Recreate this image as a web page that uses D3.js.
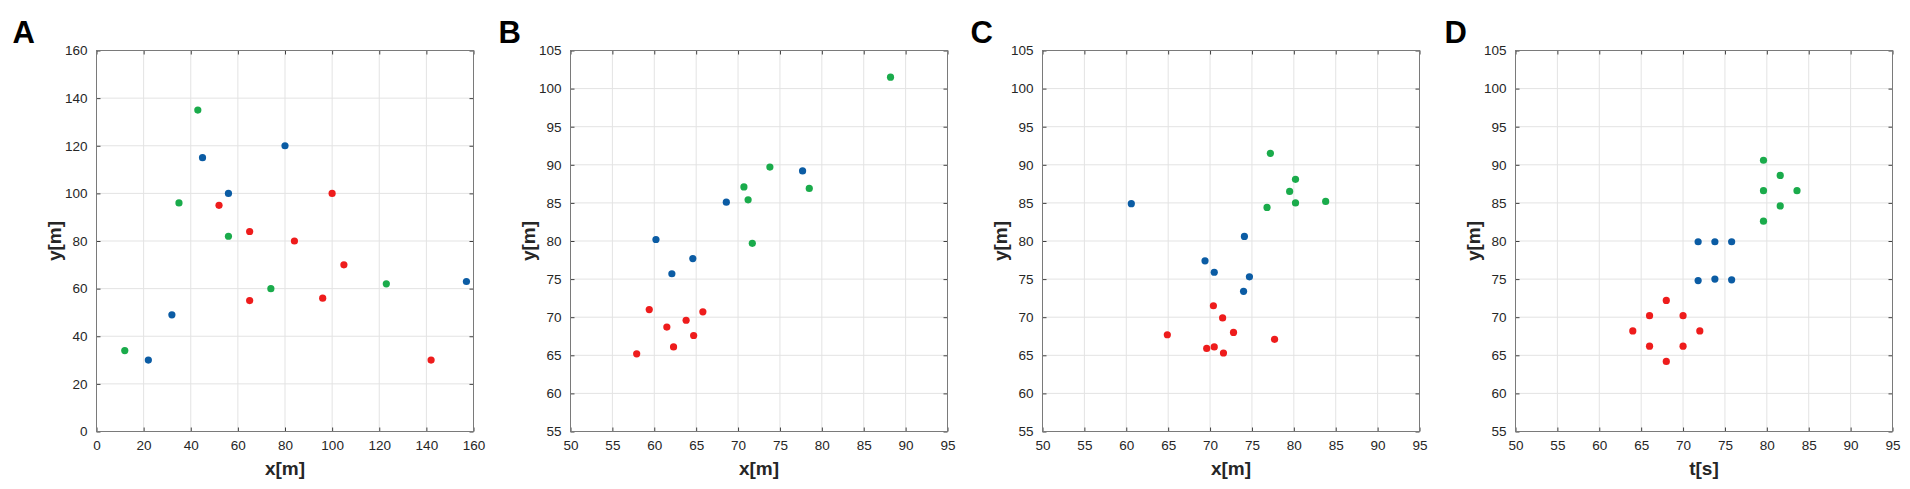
<!DOCTYPE html>
<html>
<head>
<meta charset="utf-8">
<script src="https://cdn.jsdelivr.net/npm/d3@7"></script>
<style>
  body { margin: 0; background: #fff; }
  svg { display: block; }
  .tick text { font-family: "Liberation Sans", Arial, sans-serif; font-size: 13.5px; fill: #262626; }
  .title { font-family: "Liberation Sans", Arial, sans-serif; font-weight: bold; font-size: 19px; fill: #262626; }
  .letter { font-family: "Liberation Sans", Arial, sans-serif; font-weight: bold; font-size: 31px; fill: #000; }
</style>
</head>
<body>
<div id="chart"></div>
<script>
var w = 1910, h = 489;
var colors = { blue: "#0b5ca4", red: "#ee1c1c", green: "#1aab4b" };

// panel A: x[m] vs y[m]
var aBlue  = [[22,30],[32,49],[45,115],[56,100],[80,120],[157,63]];
var aGreen = [[12,34],[35,96],[43,135],[56,82],[74,60],[123,62]];
var aRed   = [[52,95],[65,84],[65,55],[84,80],[96,56],[100,100],[105,70],[142,30]];

// panel B
var bBlue  = [[60.2,80.2],[62.1,75.7],[64.6,77.7],[68.6,85.1],[77.7,89.2]];
var bGreen = [[88.2,101.5],[73.8,89.7],[70.7,87.1],[71.2,85.4],[78.5,86.9],[71.7,79.7]];
var bRed   = [[59.4,71.0],[65.8,70.7],[61.5,68.7],[63.8,69.6],[64.7,67.6],[62.3,66.1],[57.9,65.2]];

// panel C
var cBlue  = [[60.6,84.9],[74.1,80.6],[69.4,77.4],[70.5,75.9],[74.7,75.3],[74.0,73.4]];
var cGreen = [[77.2,91.5],[80.2,88.1],[79.5,86.5],[80.2,85.0],[83.8,85.2],[76.8,84.4]];
var cRed   = [[70.4,71.5],[71.5,69.9],[72.8,68.0],[64.9,67.7],[77.7,67.1],[69.6,65.9],[70.5,66.1],[71.6,65.3]];

// panel D: t[s] vs y[m]
var dBlue  = [[71.8,79.9],[73.8,79.9],[75.8,79.9],[71.8,74.8],[73.8,75.0],[75.8,74.9]];
var dGreen = [[79.6,90.6],[81.6,88.6],[79.6,86.6],[83.6,86.6],[81.6,84.6],[79.6,82.6]];
var dRed   = [[68,72.2],[66,70.2],[70,70.2],[64,68.2],[72,68.2],[66,66.2],[70,66.2],[68,64.2]];

var xTicksA = d3.range(0, 161, 20), yTicksA = d3.range(0, 161, 20);
var xTicksB = d3.range(50, 96, 5),  yTicksB = d3.range(55, 106, 5);

var panels = [
    { letter: "A", left: 96,  letterX: -84, xDom: [0,160], yDom: [0,160], xTicks: xTicksA, yTicks: yTicksA, xTitle: "x[m]", series: [aBlue, aGreen, aRed] },
    { letter: "B", left: 570, letterX: -72, xDom: [50,95], yDom: [55,105], xTicks: xTicksB, yTicks: yTicksB, xTitle: "x[m]", series: [bBlue, bGreen, bRed] },
    { letter: "C", left: 1042, letterX: -72, xDom: [50,95], yDom: [55,105], xTicks: xTicksB, yTicks: yTicksB, xTitle: "x[m]", series: [cBlue, cGreen, cRed] },
    { letter: "D", left: 1515, letterX: -71, xDom: [50,95], yDom: [55,105], xTicks: xTicksB, yTicks: yTicksB, xTitle: "t[s]", series: [dBlue, dGreen, dRed] }
];
var seriesColors = [colors.blue, colors.green, colors.red];

var plotTop = 50.5, pw = 377, ph = 381;

var svg = d3.select("#chart").append("svg")
    .attr("width", w)
    .attr("height", h);

panels.forEach(function(p) {
    drawPanel(p);
});

function drawPanel(p) {
    var g = svg.append("g").attr("transform", "translate(" + (p.left + 0.5) + "," + plotTop + ")");
    var x = d3.scaleLinear().domain(p.xDom).range([0, pw]);
    var y = d3.scaleLinear().domain(p.yDom).range([ph, 0]);

    // grid
    g.append("g").selectAll("line")
        .data(p.xTicks)
        .enter().append("line")
        .attr("x1", function(d) { return x(d); })
        .attr("x2", function(d) { return x(d); })
        .attr("y1", 0).attr("y2", ph)
        .attr("stroke", "#e3e3e3");
    g.append("g").selectAll("line")
        .data(p.yTicks)
        .enter().append("line")
        .attr("y1", function(d) { return y(d); })
        .attr("y2", function(d) { return y(d); })
        .attr("x1", 0).attr("x2", pw)
        .attr("stroke", "#e3e3e3");

    // axes, ticks inward on all sides
    var xb = g.append("g").attr("transform", "translate(0," + ph + ")")
        .call(d3.axisBottom(x).tickValues(p.xTicks).tickSizeInner(-4).tickSizeOuter(0).tickPadding(9));
    var xt = g.append("g")
        .call(d3.axisTop(x).tickValues(p.xTicks).tickSizeInner(-4).tickSizeOuter(0).tickFormat(""));
    var yl = g.append("g")
        .call(d3.axisLeft(y).tickValues(p.yTicks).tickSizeInner(-4).tickSizeOuter(0).tickPadding(9));
    var yr = g.append("g").attr("transform", "translate(" + pw + ",0)")
        .call(d3.axisRight(y).tickValues(p.yTicks).tickSizeInner(-4).tickSizeOuter(0).tickFormat(""));
    [xb, xt, yl, yr].forEach(function(a) {
        a.select(".domain").remove();
        a.selectAll(".tick line").attr("stroke", "#404040");
    });

    g.append("rect")
        .attr("width", pw).attr("height", ph)
        .attr("fill", "none")
        .attr("stroke", "#7a7a7a");

    // points
    p.series.forEach(function(s, i) {
        g.append("g").selectAll("circle")
            .data(s)
            .enter().append("circle")
            .attr("cx", function(d) { return x(d[0]); })
            .attr("cy", function(d) { return y(d[1]); })
            .attr("r", 3.6)
            .attr("fill", seriesColors[i]);
    });

    // titles
    g.append("text").attr("class", "title")
        .attr("x", pw / 2).attr("y", ph + 43)
        .attr("text-anchor", "middle")
        .text(p.xTitle);
    g.append("text").attr("class", "title")
        .attr("transform", "translate(-36," + (ph / 2) + ") rotate(-90)")
        .attr("text-anchor", "middle")
        .text("y[m]");
    g.append("text").attr("class", "letter")
        .attr("x", p.letterX).attr("y", -8)
        .text(p.letter);
}
</script>
</body>
</html>
